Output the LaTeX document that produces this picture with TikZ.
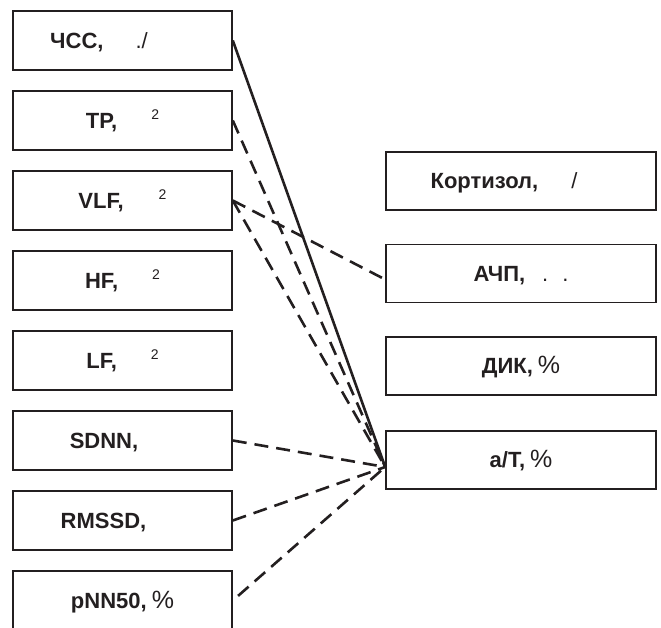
\documentclass[tikz,border=0pt]{standalone}
\usepackage{fontspec}
\setmainfont{Liberation Sans}
\usetikzlibrary{calc}
\definecolor{ink}{HTML}{231F20}
\newcommand\rg[1]{{\mdseries #1}}
\newcommand\pct{{\fontsize{25}{25}\mdseries\selectfont\%}}
\newcommand\sqr{\raisebox{9pt}{\fontsize{14}{14}\mdseries\selectfont 2}}
\newcommand\tail[1]{\hspace{#1}\null}
\begin{document}
\begin{tikzpicture}[x=1pt,y=1pt,
  box/.style={draw=ink, line width=1.6pt, inner sep=0pt, text height=15.8pt, text depth=0pt,
    font=\fontsize{22}{22}\bfseries\selectfont, text=ink},
  lbox/.style={box, minimum width=219pt, minimum height=59pt},
  rbox/.style={box, minimum width=270pt, minimum height=58pt},
  link/.style={draw=ink, line width=2.6pt},
  dlink/.style={link, dash pattern=on 14pt off 8pt}]
\useasboundingbox (0,0) rectangle (661,627);
\clip (0,0) rectangle (661,627);
% left column
\node[lbox] (hss)   at (122.5,586.5) {ЧСС,\hspace{32pt}\rg{./}\tail{47pt}};
\node[lbox] (tp)    at (122.5,506.5) {TP,\hspace{34pt}\sqr};
\node[lbox] (vlf)   at (122.5,426.5) {VLF,\hspace{35pt}\sqr};
\node[lbox] (hf)    at (122.5,346.5) {HF,\hspace{34pt}\sqr};
\node[lbox] (lf)    at (122.5,266.5) {LF,\hspace{34pt}\sqr};
\node[lbox] (sdnn)  at (122.5,186.5) {SDNN,\tail{37pt}};
\node[lbox] (rmssd) at (122.5,106.5) {RMSSD,\tail{38pt}};
\node[lbox] (pnn)   at (122.5,26.5)  {pNN50,\hspace{5pt}\pct};
% right column
\node[rbox] (kort) at (521,446)   {Кортизол,\hspace{33pt}\rg{/}\tail{34pt}};
\node[rbox] (achp) at (521,353.5) {АЧП,\hspace{17pt}\rg{.}\hspace{14pt}\rg{.}};
\node[rbox] (dik)  at (521,261)   {ДИК,\hspace{5pt}\pct};
\node[rbox] (at)   at (521,167)   {a/T,\hspace{5pt}\pct};
% connectors
\coordinate (conv) at ($(at.west)+(0,-7)$);
\coordinate (achpin) at ($(achp.west)+(0,-6)$);
\draw[link]  (hss.east) -- (conv);
\draw[dlink] (tp.east) -- (conv);
\draw[dlink] (vlf.east) -- (achpin);
\draw[dlink] (vlf.east) -- (conv);
\draw[dlink] (sdnn.east) -- (conv);
\draw[dlink] (rmssd.east) -- (conv);
\draw[dlink, shorten <=7pt] (pnn.east) -- (conv);
\end{tikzpicture}
\end{document}
